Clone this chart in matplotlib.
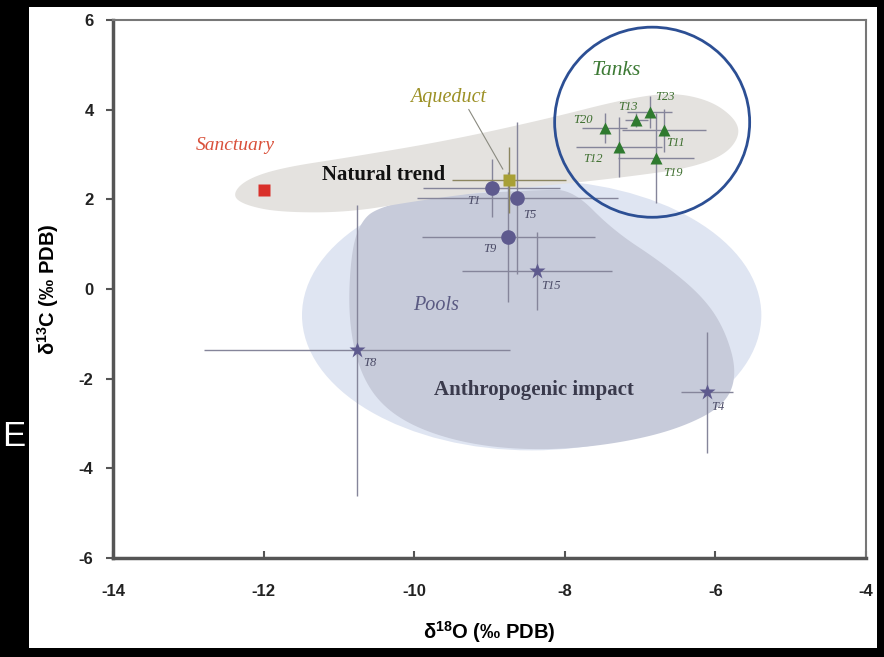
import matplotlib
matplotlib.use("Agg")
import matplotlib.pyplot as plt
from matplotlib.patches import Polygon, Ellipse, Rectangle
import numpy as np

plt.rcParams['font.family'] = ['Liberation Sans', 'DejaVu Sans']
plt.rcParams['mathtext.fontset'] = 'custom'
plt.rcParams['mathtext.rm'] = 'Liberation Sans:bold'
plt.rcParams['mathtext.default'] = 'rm'
plt.rcParams['axes.unicode_minus'] = False

# --- data (delta18O, delta13C in permil PDB) ---
circle_labels = ['T1', 'T5', 'T9']
circle_x = [-8.97, -8.63, -8.75]
circle_y = [2.25, 2.03, 1.16]
circle_xerr = [0.91, 1.33, 1.15]
circle_yerr = [0.65, 1.70, 1.45]

star_labels = ['T15', 'T8', 'T4']
star_x = [-8.37, -10.76, -6.11]
star_y = [0.40, -1.37, -2.30]
star_xerr = [1.00, 2.03, 0.35]
star_yerr = [0.87, 3.24, 1.35]

tank_labels = ['T20', 'T13', 'T23', 'T11', 'T12', 'T19']
tank_x = [-7.47, -7.05, -6.87, -6.68, -7.28, -6.79]
tank_y = [3.59, 3.77, 3.95, 3.54, 3.17, 2.92]
tank_xerr = [0.30, 0.15, 0.30, 0.56, 0.57, 0.50]
tank_yerr = [0.33, 0.15, 0.36, 0.48, 0.67, 1.00]

aqueduct_x, aqueduct_y = [-8.74], [2.43]
aqueduct_xerr, aqueduct_yerr = [0.76], [0.74]
sanctuary_x, sanctuary_y = [-12.0], [2.2]

# outlines of the shaded groups
natural_trend_outline = [(-12.42, 2.09), (-12.25, 2.43), (-11.78, 2.70), (-10.85, 2.94),
                         (-9.52, 3.32), (-8.20, 3.81), (-7.27, 4.21), (-6.60, 4.39),
                         (-6.07, 4.21), (-5.74, 3.81), (-5.67, 3.43), (-5.87, 2.99),
                         (-6.34, 2.70), (-7.00, 2.54), (-7.80, 2.38), (-8.86, 2.21),
                         (-9.92, 1.98), (-10.85, 1.71), (-11.78, 1.71), (-12.25, 1.87)]
anthropogenic_outline = [(-10.49, 1.80), (-9.92, 2.05), (-9.13, 2.14), (-8.33, 2.21),
                         (-7.89, 2.21), (-7.36, 1.31), (-6.70, 0.58), (-6.16, -0.18),
                         (-5.87, -0.92), (-5.71, -1.88), (-5.87, -2.59), (-6.47, -3.11),
                         (-7.27, -3.44), (-8.20, -3.60), (-9.13, -3.51), (-9.92, -3.15),
                         (-10.45, -2.59), (-10.75, -1.75), (-10.88, -0.54), (-10.83, 0.93),
                         (-10.69, 1.54)]
pools_center, pools_size = (-8.44, -0.585), (6.10, 6.03)
tanks_circle_center, tanks_circle_size = (-6.84, 3.72), (2.59, 4.24)

# label offsets in points
label_offsets = {'T1': (-13, -9), 'T5': (9, -12), 'T9': (-13, -9), 'T15': (10, -11),
                 'T8': (9, -9), 'T4': (8, -11), 'T20': (-16, 6), 'T13': (-6, 9),
                 'T23': (11, 11), 'T11': (8, -9), 'T12': (-19, -9), 'T19': (12, -11)}


def smooth(points, n=4):
    # Chaikin corner cutting for a closed outline
    pts = np.array(points)
    for _ in range(n):
        nxt = np.roll(pts, -1, axis=0)
        q = 0.75 * pts + 0.25 * nxt
        r = 0.25 * pts + 0.75 * nxt
        pts = np.empty((2 * len(q), 2))
        pts[0::2] = q
        pts[1::2] = r
    return pts


fig = plt.figure(figsize=(8.84, 6.57), dpi=100, facecolor='black')
fig.patches.append(Rectangle((29 / 884, 1 - 648 / 657), 848 / 884, 641 / 657,
                             transform=fig.transFigure, facecolor='white',
                             edgecolor='none', zorder=-10))
fig.text(25 / 884, 1 - 436 / 657, 'E', color='white', fontsize=25,
         ha='right', va='center', family='Liberation Sans')

ax = fig.add_axes([113 / 884, 1 - 558 / 657, 753 / 884, 538 / 657])
ax.set_zorder(2)
ax.set_facecolor('none')

ax.add_patch(Ellipse(pools_center, *pools_size, facecolor='#dfe5f2',
                     edgecolor='none', zorder=1))
ax.add_patch(Polygon(smooth(anthropogenic_outline), closed=True, facecolor='#c7cbda',
                     edgecolor='none', zorder=2))
ax.add_patch(Polygon(smooth(natural_trend_outline), closed=True, facecolor='#e4e2df',
                     edgecolor='none', zorder=3))

err_kw = dict(fmt='none', ecolor='#85859a', elinewidth=1.0, capsize=0, zorder=4)
ax.errorbar(circle_x, circle_y, xerr=circle_xerr, yerr=circle_yerr, **err_kw)
ax.errorbar(star_x, star_y, xerr=star_xerr, yerr=star_yerr, **err_kw)
ax.errorbar(tank_x, tank_y, xerr=tank_xerr, yerr=tank_yerr, **err_kw)
ax.errorbar(aqueduct_x, aqueduct_y, xerr=aqueduct_xerr, yerr=aqueduct_yerr,
            fmt='none', ecolor='#8c8660', elinewidth=1.0, capsize=0, zorder=4)

ax.plot(circle_x, circle_y, 'o', color='#5e5a8e', ms=10.5, mec='none', zorder=5)
ax.plot(star_x, star_y, '*', color='#5e5a8e', ms=12, mec='none', zorder=5)
ax.plot(tank_x, tank_y, '^', color='#2f7a2f', ms=9, mec='none', zorder=5)
ax.plot(aqueduct_x, aqueduct_y, 's', color='#a8a035', ms=9, mec='none', zorder=5)
ax.plot(sanctuary_x, sanctuary_y, 's', color='#d9302a', ms=8, mec='none', zorder=5)

lab_kw = dict(textcoords='offset points', ha='center', va='center', fontsize=9,
              fontstyle='italic', family='Liberation Serif', zorder=6)
for lab, x, y in zip(circle_labels + star_labels, circle_x + star_x, circle_y + star_y):
    ax.annotate(lab, (x, y), xytext=label_offsets[lab], color='#4a4a66', **lab_kw)
for lab, x, y in zip(tank_labels, tank_x, tank_y):
    ax.annotate(lab, (x, y), xytext=label_offsets[lab], color='#3d6e2e', **lab_kw)

serif = 'Liberation Serif'
ax.text(-12.37, 3.19, 'Sanctuary', color='#d9503a', fontsize=14, fontstyle='italic',
        family=serif, ha='center', va='center', zorder=6)
ax.annotate('Aqueduct', (aqueduct_x[0], aqueduct_y[0]), xytext=(-9.55, 4.28),
            color='#9c9025', fontsize=14.5, fontstyle='italic', family=serif,
            ha='center', va='center', zorder=6,
            arrowprops=dict(arrowstyle='-', color='#8a8a80', lw=0.8,
                            relpos=(0.75, 0.0), shrinkA=0, shrinkB=9))
ax.text(-7.31, 4.88, 'Tanks', color='#3d7a35', fontsize=15.5, fontstyle='italic',
        family=serif, ha='center', va='center', zorder=6)
ax.text(-10.41, 2.54, 'Natural trend', color='#111111', fontsize=15, fontweight='bold',
        family=serif, ha='center', va='center', zorder=6)
ax.text(-9.71, -0.36, 'Pools', color='#5a5a82', fontsize=14.5, fontstyle='italic',
        family=serif, ha='center', va='center', zorder=6)
ax.text(-8.41, -2.26, 'Anthropogenic impact', color='#3a3a4c', fontsize=15,
        fontweight='bold', family=serif, ha='center', va='center', zorder=6)

ax.add_patch(Ellipse(tanks_circle_center, *tanks_circle_size, facecolor='none',
                     edgecolor='#2c4f94', lw=2, zorder=7))

ax.set_xlim(-14, -4)
ax.set_ylim(-6, 6)
ax.set_xticks(range(-14, -3, 2))
ax.set_yticks(range(-6, 7, 2))
ax.tick_params(axis='y', direction='out', length=5, width=1.5, color='#555555',
               labelsize=12, pad=9)
ax.tick_params(axis='x', direction='in', length=5, width=1.5, color='#555555',
               labelsize=12, pad=19)
for lab in ax.get_xticklabels() + ax.get_yticklabels():
    lab.set_fontweight('bold')
    lab.set_color('#222222')
for side in ['left', 'bottom']:
    ax.spines[side].set_linewidth(2.5)
    ax.spines[side].set_color('#555555')
for side in ['top', 'right']:
    ax.spines[side].set_linewidth(1.5)
    ax.spines[side].set_color('#777777')

ax.set_xlabel(r'δ$^{18}$O (‰ PDB)', fontsize=14.5, fontweight='bold', labelpad=14)
ax.set_ylabel(r'δ$^{13}$C (‰ PDB)', fontsize=14.5, fontweight='bold', labelpad=13)

fig.savefig('out.png', dpi=100, facecolor='black')
